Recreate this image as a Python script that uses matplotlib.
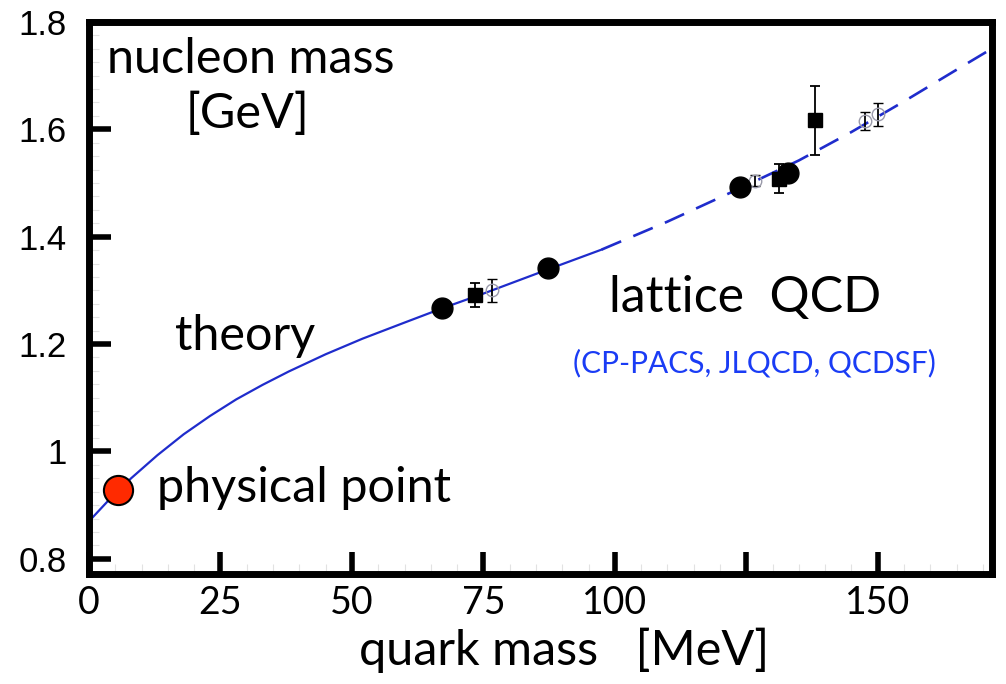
import matplotlib.pyplot as plt
from matplotlib.ticker import MultipleLocator

# theory curve (chiral extrapolation)
curve_x = [0, 4, 8, 13, 18, 23, 28, 33, 38, 45, 52, 60, 67, 75, 87, 97.5,
           110, 124, 135, 145, 155, 165, 172]
curve_y = [0.870, 0.912, 0.950, 0.993, 1.032, 1.066, 1.097, 1.124, 1.149,
           1.181, 1.210, 1.240, 1.266, 1.294, 1.338, 1.376,
           1.428, 1.491, 1.542, 1.595, 1.652, 1.711, 1.752]
solid_end = 97.5

# lattice data
circ_x = [67.1, 87.3, 123.8, 132.9]
circ_y = [1.267, 1.341, 1.493, 1.519]

sq_x = [73.4, 131.3, 138.0]
sq_y = [1.291, 1.508, 1.617]
sq_err = [0.022, 0.027, 0.064]

open_x = [76.6, 126.6, 147.5, 150.0]
open_y = [1.300, 1.504, 1.615, 1.628]
open_err = [0.022, 0.010, 0.017, 0.021]

phys_x = [5.5]
phys_y = [0.928]

xticks = [0, 25, 50, 75, 100, 125, 150]
xtick_labels = ['0', '25', '50', '75', '100', '', '150']
yticks = [0.8, 1.0, 1.2, 1.4, 1.6, 1.8]
ytick_labels = ['0.8', '1', '1.2', '1.4', '1.6', '1.8']

blue = '#1f2ccc'
gill = 'Lato'

fig = plt.figure(figsize=(10.06, 6.84), dpi=100)
ax = fig.add_axes([0.0885, 0.161, 0.898, 0.807])

# curve: solid up to solid_end, dashed beyond
xs = [x for x in curve_x if x <= solid_end]
ys = curve_y[:len(xs)]
ax.plot(xs, ys, color=blue, lw=1.6, zorder=2)
xd = curve_x[len(xs) - 1:]
yd = curve_y[len(xs) - 1:]
ax.plot(xd, yd, color=blue, lw=1.9, dashes=(8, 5), zorder=2)

ax.errorbar(open_x, open_y, yerr=open_err, fmt='o', ms=9, mfc='none',
            mec='#9a9aaa', mew=1.0, ecolor='black', elinewidth=1.3,
            capsize=3.5, capthick=1.3, zorder=3)
ax.errorbar(sq_x, sq_y, yerr=sq_err, fmt='s', ms=10, color='black',
            ecolor='black', elinewidth=1.3, capsize=3.5, capthick=1.3, zorder=4)
ax.plot(circ_x, circ_y, 'o', ms=15, color='black', zorder=5)
ax.plot(phys_x, phys_y, 'o', ms=21, mfc='#ff2a00', mec='black', mew=1.5,
        zorder=6, clip_on=False)

ax.set_xlim(0, 171.8)
ax.set_ylim(0.772, 1.797)

ax.set_xticks(xticks)
ax.set_xticklabels(xtick_labels, fontfamily=gill, fontsize=27)
ax.set_yticks(yticks)
ax.set_yticklabels(ytick_labels, fontfamily='Liberation Sans', fontsize=25)
ax.xaxis.set_minor_locator(MultipleLocator(5))
ax.yaxis.set_minor_locator(MultipleLocator(0.025))
ax.tick_params(which='major', direction='in', length=16, width=4,
               color='black')
ax.tick_params(axis='x', which='major', pad=8)
ax.tick_params(axis='y', which='major', pad=16)
ax.tick_params(which='minor', direction='in', length=7, width=0.8,
               color='#e2e2e2')

for s in ax.spines.values():
    s.set_linewidth(5)
    s.set_color('black')
    s.set_zorder(10)

# annotations
ax.text(3.4, 1.705, 'nucleon mass', fontfamily=gill, fontsize=35)
ax.text(18.3, 1.603, '[GeV]', fontfamily=gill, fontsize=35)
ax.text(16.3, 1.189, 'theory', fontfamily=gill, fontsize=35)
ax.text(13.0, 0.906, 'physical point', fontfamily=gill, fontsize=35)
ax.text(98.8, 1.259, 'lattice  QCD', fontfamily=gill, fontsize=36)
ax.text(92.0, 1.148, '(CP-PACS, JLQCD, QCDSF)', fontfamily=gill,
        fontsize=21.5, color='#1a3cf5')

fig.text(0.357, 0.028, 'quark mass   [MeV]', fontfamily=gill, fontsize=35)

fig.savefig('out.png', dpi=100)
